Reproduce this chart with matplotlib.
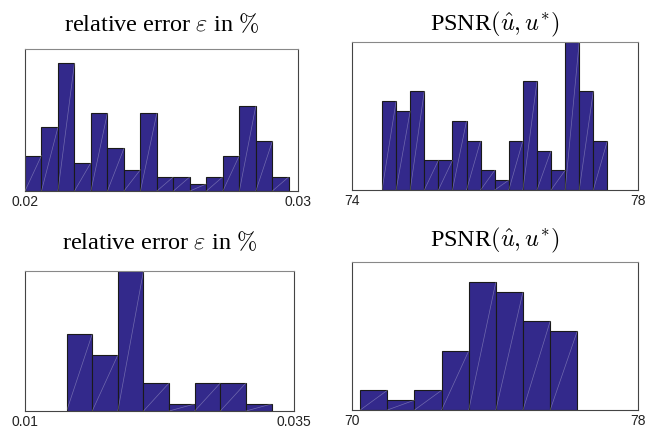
import matplotlib
matplotlib.use("Agg")
import matplotlib.pyplot as plt
import numpy as np

plt.rcParams['mathtext.fontset'] = 'cm'

# ---- data (histogram counts) ----
tl_counts = [5, 9, 18, 4, 11, 6, 3, 11, 2, 2, 1, 2, 5, 12, 7, 2]
tl_bin_start, tl_bin_width = 0.0200, 0.000604
tl_xlim = [0.02, 0.03]
tl_ymax = 20
tl_ticklabels = ["0.02", "0.03"]

tr_counts = [9, 8, 10, 3, 3, 7, 5, 2, 1, 5, 11, 4, 2, 15, 10, 5]
tr_bin_start, tr_bin_width = 74.42, 0.197
tr_xlim = [74, 78]
tr_ymax = 15
tr_ticklabels = ["74", "78"]

bl_counts = [11, 8, 20, 4, 1, 4, 4, 1]
bl_bin_start, bl_bin_width = 0.01387, 0.00238
bl_xlim = [0.01, 0.035]
bl_ymax = 20
bl_ticklabels = ["0.01", "0.035"]

br_counts = [2, 1, 2, 6, 13, 12, 9, 8]
br_bin_start, br_bin_width = 70.23, 0.759
br_xlim = [70, 78]
br_ymax = 15
br_ticklabels = ["70", "78"]

title_err = r"relative error $\varepsilon$ in $\%$"
title_psnr = r"PSNR$(\hat{u}, u^{*})$"

BAR = '#33298b'

fig = plt.figure(figsize=(6.51, 4.28), dpi=100)

panels = [
    ([25/651, 1-191/428, 273/651, 142/428], tl_counts, tl_bin_start, tl_bin_width, tl_xlim, tl_ymax, tl_ticklabels, title_err, 13),
    ([352/651, 1-190/428, 286/651, 148/428], tr_counts, tr_bin_start, tr_bin_width, tr_xlim, tr_ymax, tr_ticklabels, title_psnr, 8),
    ([25/651, 1-411/428, 269/651, 140/428], bl_counts, bl_bin_start, bl_bin_width, bl_xlim, bl_ymax, bl_ticklabels, title_err, 16),
    ([352/651, 1-410/428, 286/651, 148/428], br_counts, br_bin_start, br_bin_width, br_xlim, br_ymax, br_ticklabels, title_psnr, 11),
]

for rect, counts, start, width, xlim, ymax, ticklabels, title, pad in panels:
    ax = fig.add_axes(rect)
    counts = np.array(counts, dtype=float)
    lefts = start + width * np.arange(len(counts))
    ax.bar(lefts, counts, width=width, align='edge', color=BAR,
           edgecolor='#1a1a1a', linewidth=0.8, zorder=2)
    for l, h in zip(lefts, counts):
        ax.plot([l, l + width], [0, h], color='white', alpha=0.3, lw=0.5, zorder=3)
    ax.set_xlim(xlim)
    ax.set_ylim(0, ymax)
    ax.set_yticks([])
    ax.set_xticks(xlim)
    ax.set_xticklabels(ticklabels, fontsize=10, color='#222222',
                       fontfamily='Liberation Sans')
    ax.tick_params(axis='x', length=0, pad=3)
    for s in ['left', 'right', 'bottom']:
        ax.spines[s].set_color('#444444')
        ax.spines[s].set_linewidth(0.8)
    ax.spines['top'].set_color('#888888')
    ax.spines['top'].set_linewidth(0.8)
    ax.set_title(title, fontsize=17.5, fontfamily='Liberation Serif', pad=pad)

fig.savefig('out.png', dpi=100)
